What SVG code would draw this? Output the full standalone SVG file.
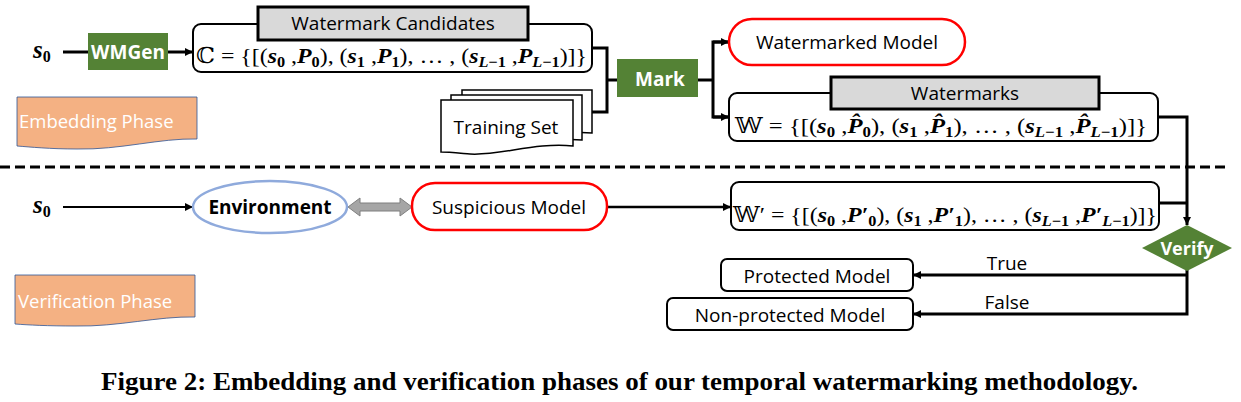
<svg xmlns="http://www.w3.org/2000/svg" width="1241" height="402" viewBox="0 0 1241 402">
<style>
.lbl{font-family:"Open Sans","Liberation Sans",sans-serif;font-size:19px;fill:#000}
.wb{font-family:"Open Sans","Liberation Sans",sans-serif;font-size:19px;font-weight:bold;fill:#fff}
.ph{font-family:"Open Sans","Liberation Sans",sans-serif;font-size:18.5px;fill:#fff}
.m{font-family:"Liberation Serif","DejaVu Serif","DejaVu Sans",serif;font-size:22px;fill:#000}
.bi{font-weight:bold;font-style:italic}
.sub{font-weight:bold;font-size:15px}
.box{fill:#fff;stroke:#000;stroke-width:2}
.hdr{fill:#D9D9D9;stroke:#000;stroke-width:3}
.grn{fill:#548235}
.red{fill:#fff;stroke:#FF0000;stroke-width:2.5}
.phase{fill:#F4B183;stroke:#2F5597;stroke-width:0.8}
.doc{fill:#fff;stroke:#000;stroke-width:1.5}
.c{fill:none;stroke:#000;stroke-width:3}
.cap{font-family:"Liberation Serif",serif;font-size:25px;font-weight:bold;fill:#000}
</style>
<defs>
<marker id="ah" viewBox="0 0 10 10" refX="10" refY="5" markerWidth="9" markerHeight="8" markerUnits="userSpaceOnUse" orient="auto"><path d="M0,0 L10,5 L0,10 z" fill="#000"/></marker>
</defs>

<g id="connectors">
<line x1="0" y1="167" x2="1228" y2="167" stroke="#000" stroke-width="3" stroke-dasharray="10 5"/>
<line class="c" x1="63" y1="52" x2="88" y2="52"/>
<line class="c" x1="168" y1="52" x2="193" y2="52" marker-end="url(#ah)"/>
<polyline class="c" points="592,48 607,48 607,112 592,112"/>
<line class="c" x1="607" y1="80" x2="617" y2="80"/>
<line class="c" x1="698" y1="80" x2="713" y2="80"/>
<polyline class="c" points="729,42 713,42 713,117 729,117"/>
<line class="c" x1="713" y1="42" x2="729" y2="42" marker-end="url(#ah)"/>
<line class="c" x1="713" y1="117" x2="729" y2="117" marker-end="url(#ah)"/>
<polyline class="c" points="1158,117 1187,117 1187,225" marker-end="url(#ah)"/>
<polyline class="c" points="1159,203 1187,203"/>
<polyline class="c" points="1187,270 1187,314 913,314" marker-end="url(#ah)"/>
<line class="c" x1="1187" y1="275" x2="913" y2="275" marker-end="url(#ah)"/>
<line x1="63" y1="207" x2="193" y2="207" stroke="#000" stroke-width="2" marker-end="url(#ah)"/>
<path d="M348,207 L360,198 V203 H400 V198 L412,207 L400,216 V211 H360 V216 Z" fill="#A6A6A6" stroke="#7F7F7F" stroke-width="1"/>
<line x1="607" y1="207" x2="731" y2="207" stroke="#000" stroke-width="2.5" marker-end="url(#ah)"/>
</g>

<g id="s0-top"><text class="m" x="33" y="58" style="font-size:25px"><tspan class="bi">s</tspan><tspan class="sub" dy="4" style="font-size:16px">0</tspan></text></g>
<g id="s0-bottom"><text class="m" x="33" y="213" style="font-size:25px"><tspan class="bi">s</tspan><tspan class="sub" dy="4" style="font-size:16px">0</tspan></text></g>

<g id="wmgen"><rect class="grn" x="88" y="33" width="80" height="37"/><text class="wb" x="128" y="59" text-anchor="middle">WMGen</text></g>

<g id="candidates">
<rect class="box" x="193" y="24" width="399" height="48" rx="8"/>
<rect class="hdr" x="258" y="7" width="270" height="33"/>
<text class="lbl" x="393" y="30" text-anchor="middle">Watermark Candidates</text>
<text class="m" x="196" y="63" textLength="391" lengthAdjust="spacingAndGlyphs">ℂ = {[(<tspan class="bi">s</tspan><tspan class="sub" dy="4">0</tspan><tspan dy="-4"> ,</tspan><tspan class="bi">P</tspan><tspan class="sub" dy="4">0</tspan><tspan dy="-4">), (</tspan><tspan class="bi">s</tspan><tspan class="sub" dy="4">1</tspan><tspan dy="-4"> ,</tspan><tspan class="bi">P</tspan><tspan class="sub" dy="4">1</tspan><tspan dy="-4">), … , (</tspan><tspan class="bi">s</tspan><tspan class="sub" dy="4"><tspan class="bi">L</tspan>−1</tspan><tspan dy="-4"> ,</tspan><tspan class="bi">P</tspan><tspan class="sub" dy="4"><tspan class="bi">L</tspan>−1</tspan><tspan dy="-4">)]}</tspan></text>
</g>

<g id="training-set">
<path class="doc" d="M462,90 H592 V133 C560,130 530,140 462,138 Z"/>
<path class="doc" d="M451,95 H582 V140 C550,137 520,147 451,145 Z"/>
<path class="doc" d="M441,100 H573 V146 C535,142 500,156 470,154 C458,153 448,152 441,152 Z"/>
<text class="lbl" x="506" y="134" text-anchor="middle">Training Set</text>
</g>

<g id="mark"><rect class="grn" x="617" y="59" width="81" height="38"/><text class="wb" x="660" y="86" text-anchor="middle">Mark</text></g>

<g id="watermarked-model"><rect class="red" x="729" y="19" width="236" height="46" rx="23"/><text class="lbl" x="847" y="49" text-anchor="middle">Watermarked Model</text></g>

<g id="watermarks">
<rect class="box" x="729" y="93" width="429" height="48" rx="8"/>
<rect class="hdr" x="831" y="77" width="268" height="32"/>
<text class="lbl" x="965" y="100" text-anchor="middle">Watermarks</text>
<text class="m" x="735" y="133" textLength="412" lengthAdjust="spacingAndGlyphs">𝕎 = {[(<tspan class="bi">s</tspan><tspan class="sub" dy="4">0</tspan><tspan dy="-4"> ,</tspan><tspan class="bi">P&#x302;</tspan><tspan class="sub" dy="4">0</tspan><tspan dy="-4">), (</tspan><tspan class="bi">s</tspan><tspan class="sub" dy="4">1</tspan><tspan dy="-4"> ,</tspan><tspan class="bi">P&#x302;</tspan><tspan class="sub" dy="4">1</tspan><tspan dy="-4">), … , (</tspan><tspan class="bi">s</tspan><tspan class="sub" dy="4"><tspan class="bi">L</tspan>−1</tspan><tspan dy="-4"> ,</tspan><tspan class="bi">P&#x302;</tspan><tspan class="sub" dy="4"><tspan class="bi">L</tspan>−1</tspan><tspan dy="-4">)]}</tspan></text>
</g>

<g id="embedding-phase">
<path class="phase" d="M17,97 H197 V139 C160,138 120,150 77,149 C50,149 30,147 17,146 Z"/>
<text class="ph" x="19" y="128">Embedding Phase</text>
</g>

<g id="environment"><ellipse cx="270" cy="207" rx="77" ry="26" fill="#fff" stroke="#8FAADC" stroke-width="2.5"/><text class="lbl" x="270" y="214" text-anchor="middle" font-weight="bold">Environment</text></g>

<g id="suspicious-model"><rect class="red" x="412" y="183" width="195" height="47" rx="23"/><text class="lbl" x="509" y="214" text-anchor="middle">Suspicious Model</text></g>

<g id="extracted">
<rect class="box" x="731" y="182" width="428" height="48" rx="8"/>
<text class="m" x="733" y="222" textLength="424" lengthAdjust="spacingAndGlyphs">𝕎′ = {[(<tspan class="bi">s</tspan><tspan class="sub" dy="4">0</tspan><tspan dy="-4"> ,</tspan><tspan class="bi">P′</tspan><tspan class="sub" dy="4">0</tspan><tspan dy="-4">), (</tspan><tspan class="bi">s</tspan><tspan class="sub" dy="4">1</tspan><tspan dy="-4"> ,</tspan><tspan class="bi">P′</tspan><tspan class="sub" dy="4">1</tspan><tspan dy="-4">), … , (</tspan><tspan class="bi">s</tspan><tspan class="sub" dy="4"><tspan class="bi">L</tspan>−1</tspan><tspan dy="-4"> ,</tspan><tspan class="bi">P′</tspan><tspan class="sub" dy="4"><tspan class="bi">L</tspan>−1</tspan><tspan dy="-4">)]}</tspan></text>
</g>

<g id="verify"><polygon class="grn" points="1187,225 1232,248 1187,271 1142,248"/><text class="wb" x="1187" y="255" text-anchor="middle" style="font-size:18px">Verify</text></g>

<g id="protected-model"><rect class="box" x="721" y="259" width="192" height="32" rx="6"/><text class="lbl" x="817" y="283" text-anchor="middle">Protected Model</text></g>
<g id="non-protected-model"><rect class="box" x="667" y="298" width="246" height="32" rx="6"/><text class="lbl" x="790" y="322" text-anchor="middle">Non-protected Model</text></g>

<g id="edge-labels">
<text class="lbl" x="1007" y="270" text-anchor="middle">True</text>
<text class="lbl" x="1007" y="309" text-anchor="middle">False</text>
</g>

<g id="verification-phase">
<path class="phase" d="M15,275 H195 V317 C158,316 118,327 75,326 C48,326 28,325 15,324 Z"/>
<text class="ph" x="18" y="308">Verification Phase</text>
</g>

<g id="caption"><text class="cap" x="101" y="390" textLength="1037" lengthAdjust="spacingAndGlyphs">Figure 2: Embedding and verification phases of our temporal watermarking methodology.</text></g>
</svg>
